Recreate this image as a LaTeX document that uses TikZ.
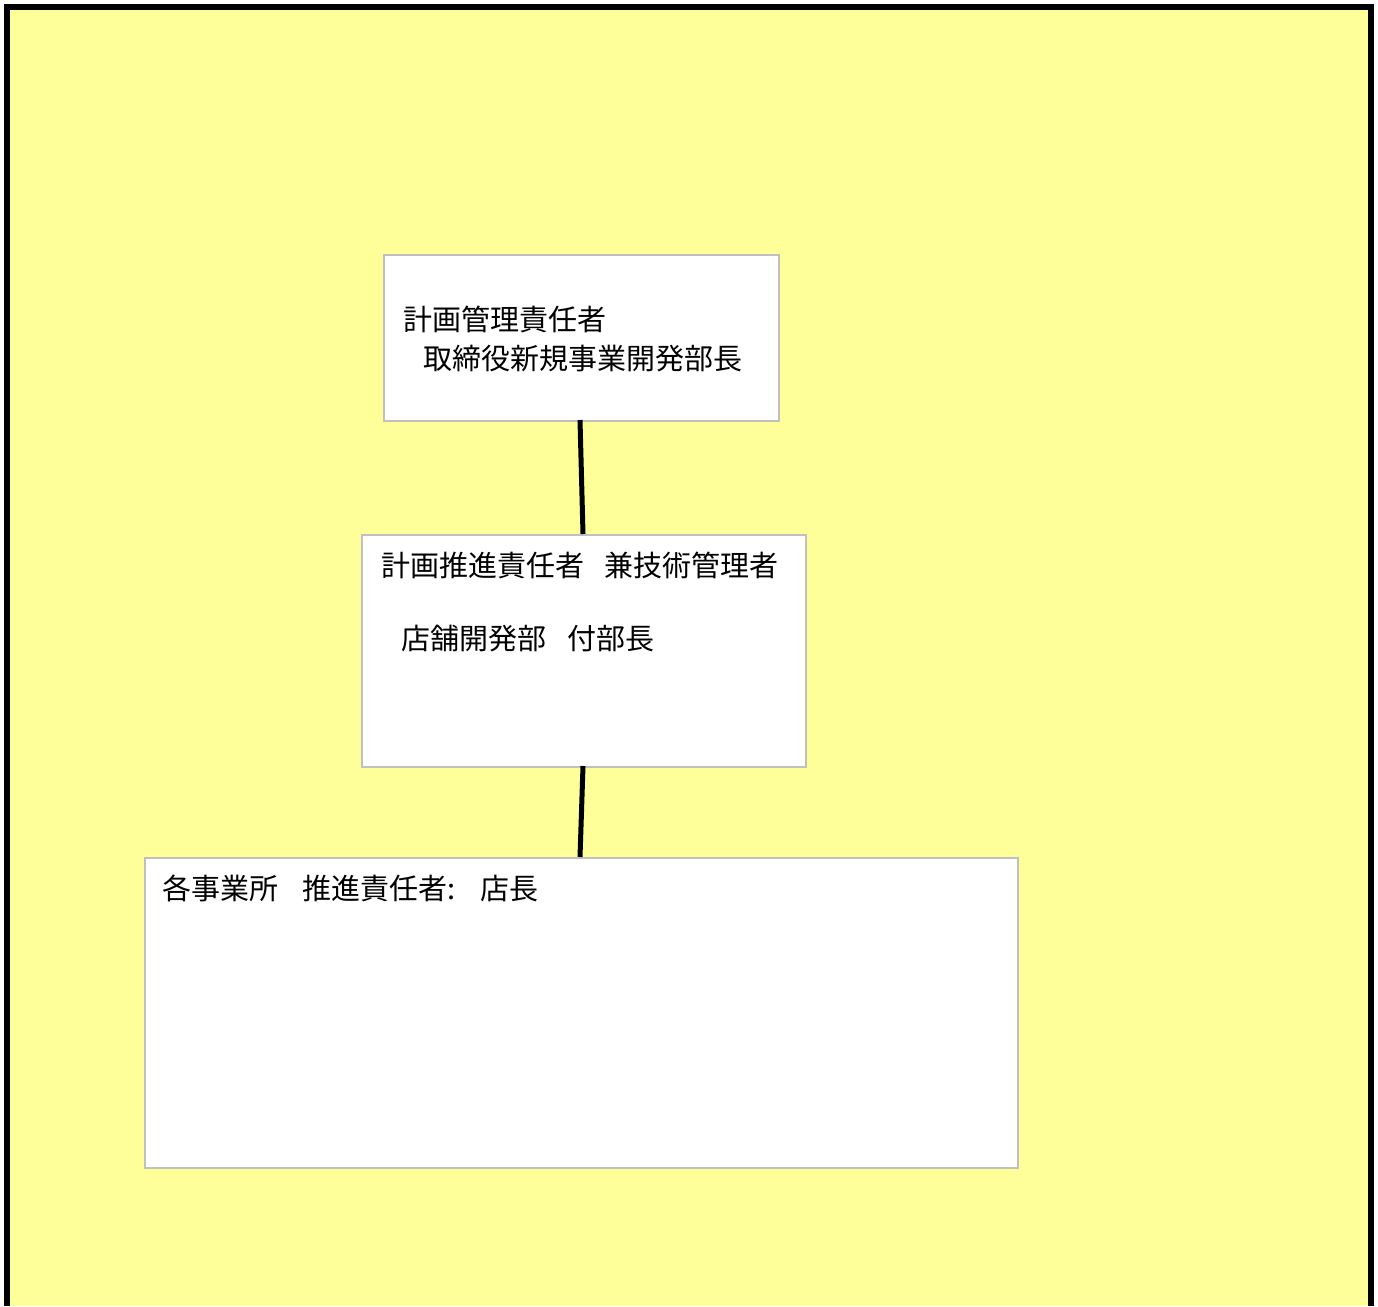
\documentclass[tikz,border=0pt]{standalone}
\usepackage{fontspec}
\setmainfont{Noto Sans CJK JP}
\newfontfamily\jpfont{Noto Sans CJK JP}
\definecolor{bgyellow}{HTML}{FFFF99}
\definecolor{boxgray}{HTML}{C0C0C0}
\begin{document}
\begin{tikzpicture}[x=1pt,y=-1pt,
  orgbox/.style={draw=boxgray,line width=1.5pt,fill=white,inner sep=0pt,anchor=north west},
  lbl/.style={anchor=base west,inner sep=0pt,font=\jpfont\fontsize{29}{32}\selectfont},
  link/.style={line width=5pt,black}]
\useasboundingbox (0,0) rectangle (1378,1306);
\fill[white] (0,0) rectangle (1378,1306);
\begin{scope}
\clip (0,0) rectangle (1378,1305);
\draw[fill=bgyellow,line width=6pt] (7,7) rectangle (1370.5,1330);
\end{scope}
\node[orgbox,minimum width=395pt,minimum height=166pt] (b1) at (383,254) {};
\node[orgbox,minimum width=444pt,minimum height=232pt] (b2) at (361,534) {};
\node[orgbox,minimum width=873pt,minimum height=310pt] (b3) at (144,857) {};
\coordinate (b1s) at (580,420);
\coordinate (b2n) at (583,534);
\coordinate (b2s) at (583,766);
\coordinate (b3n) at (580,857);
\draw[link] (b1s) -- (b2n);
\draw[link] (b2s) -- (b3n);
\node[lbl] (t1) at (403,330) {計画管理責任者};
\node[lbl] (t2) at (423,369) {取締役新規事業開発部長};
\node[lbl] (t3) at (381,576) {計画推進責任者\hspace{0.7em}兼技術管理者};
\node[lbl] (t4) at (401,649) {店舗開発部\hspace{0.75em}付部長};
\node[lbl] (t5) at (162,899) {各事業所\hspace{0.85em}推進責任者:\hspace{0.85em}店長};
\end{tikzpicture}
\end{document}
